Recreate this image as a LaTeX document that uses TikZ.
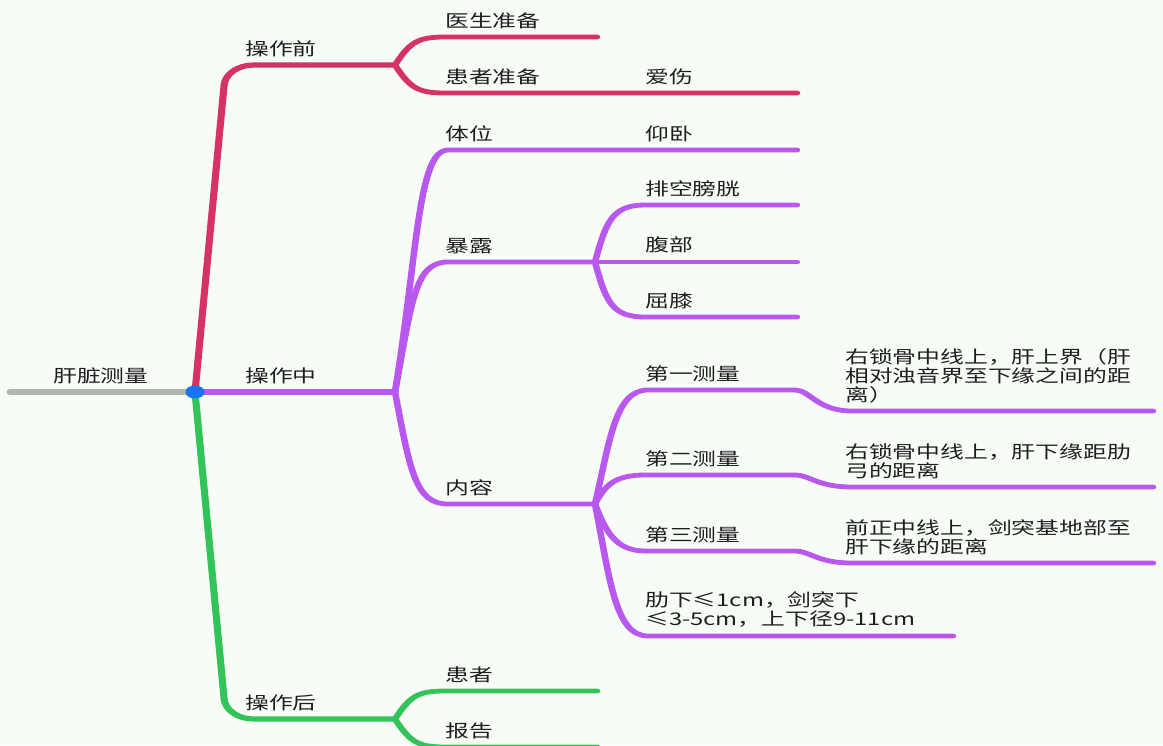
\documentclass[tikz,border=0pt]{standalone}
\usepackage{fontspec}
\setmainfont{Noto Sans CJK SC}
\usepackage{tikz}
\usetikzlibrary{positioning, shapes.geometric}
\definecolor{MapRed}{RGB}{214, 50, 100}
\definecolor{MapPurple}{RGB}{184, 88, 238}
\definecolor{MapGreen}{RGB}{50, 196, 88}
\definecolor{MapGray}{RGB}{180, 180, 180}
\definecolor{MapBlue}{RGB}{20, 118, 240}
\definecolor{MapInk}{RGB}{30, 30, 30}
\definecolor{MapPaper}{RGB}{247, 252, 247}
\tikzset{every node/.style={font=\fontsize{17.5}{19}\selectfont, text=MapInk}, every path/.style={line cap=round, line join=round}}
\tikzset{topic/.style={anchor=south west, inner sep=0pt, align=left}, limb/.style={line width=5.2pt}, twig/.style={line width=4.8pt}, hubdot/.style={ellipse, fill=MapBlue, inner sep=0pt, minimum width=14pt, minimum height=13pt}}

\begin{document}
\begin{tikzpicture}[x=1pt, y=-1pt]
    \useasboundingbox (0,0) rectangle (1163,745);
    \fill [MapPaper] (0,0) rectangle (1163,745);

    \begin{scope}[x=0.7353pt, transform canvas={xscale=1.36}]
    % fork points and line ends
    \coordinate (root) at (10,392);
    \coordinate (hub) at (195,392);
    \coordinate (pre) at (395,65);
    \coordinate (mid) at (395,392);
    \coordinate (post) at (395,719);
    \coordinate (doc) at (597,37);
    \coordinate (care) at (797,93);
    \coordinate (lie) at (797,150);
    \coordinate (expo) at (595,262);
    \coordinate (cont) at (595,504);
    \coordinate (bladder) at (797,205);
    \coordinate (belly) at (797,262);
    \coordinate (knee) at (797,317);
    \coordinate (m1) at (1153,411);
    \coordinate (m2) at (1153,487);
    \coordinate (m3) at (1153,563);
    \coordinate (norm) at (953,636);
    \coordinate (patient) at (597,691);
    \coordinate (report) at (597,747);

    % main branches
    \draw [limb, MapGray] (root) -- (hub);
    \draw [limb, MapRed, rounded corners=20pt] (hub) -- (226,65) -- (pre);
    \draw [limb, MapGreen, rounded corners=20pt] (hub) -- (226,719) -- (post);
    \draw [limb, MapPurple] (hub) -- (mid);

    % before
    \draw [twig, MapRed] (pre) .. controls (410,42) and (418,37) .. (445,37) -- (doc);
    \draw [twig, MapRed] (pre) .. controls (410,88) and (418,93) .. (445,93) -- (care);

    % during
    \draw [twig, MapPurple] (mid) .. controls (418,250) and (418,150) .. (448,150) -- (lie);
    \draw [twig, MapPurple] (mid) .. controls (412,300) and (415,262) .. (448,262) -- (expo);
    \draw [twig, MapPurple] (mid) .. controls (410,470) and (415,504) .. (448,504) -- (cont);
    \draw [twig, MapPurple] (expo) .. controls (606,222) and (612,205) .. (645,205) -- (bladder);
    \draw [twig, MapPurple] (expo) -- (belly);
    \draw [twig, MapPurple] (expo) .. controls (606,302) and (612,317) .. (645,317) -- (knee);
    \draw [twig, MapPurple] (cont) .. controls (610,440) and (615,390) .. (648,390) -- (795,390)
        .. controls (810,390) and (817,411) .. (852,411) -- (m1);
    \draw [twig, MapPurple] (cont) .. controls (605,485) and (615,475) .. (645,475) -- (795,475)
        .. controls (810,475) and (817,487) .. (852,487) -- (m2);
    \draw [twig, MapPurple] (cont) .. controls (605,530) and (615,551) .. (645,551) -- (795,551)
        .. controls (810,551) and (817,563) .. (852,563) -- (m3);
    \draw [twig, MapPurple] (cont) .. controls (610,580) and (615,636) .. (648,636) -- (norm);

    % after
    \draw [twig, MapGreen] (post) .. controls (410,696) and (418,691) .. (445,691) -- (patient);
    \draw [twig, MapGreen] (post) .. controls (410,742) and (418,747) .. (445,747) -- (report);

    \node [hubdot] (dot) at (hub) {};

    % labels
    \node [topic] (liver) at (53,384) {肝脏测量};
    \node [topic] (before) at (245,57) {操作前};
    \node [topic] (doctor) at (445,29) {医生准备};
    \node [topic] (patprep) at (445,85) {患者准备};
    \node [topic] (caring) at (645,85) {爱伤};
    \node [topic] (during) at (245,384) {操作中};
    \node [topic] (posture) at (445,142) {体位};
    \node [topic] (supine) at (645,142) {仰卧};
    \node [topic] (expose) at (445,254) {暴露};
    \node [topic] (empty) at (645,197) {排空膀胱};
    \node [topic] (abdomen) at (645,253) {腹部};
    \node [topic] (kneebend) at (645,309) {屈膝};
    \node [topic] (content) at (445,496) {内容};
    \node [topic] (first) at (645,382) {第一测量};
    \node [topic] (firstnote) at (845,403) {右锁骨中线上，肝上界（肝\\相对浊音界至下缘之间的距\\离）};
    \node [topic] (second) at (645,467) {第二测量};
    \node [topic] (secondnote) at (845,479) {右锁骨中线上，肝下缘距肋\\弓的距离};
    \node [topic] (third) at (645,543) {第三测量};
    \node [topic] (thirdnote) at (845,555) {前正中线上，剑突基地部至\\肝下缘的距离};
    \node [topic] (range) at (645,628) {肋下≤1cm，剑突下\\≤3-5cm，上下径9-11cm};
    \node [topic] (after) at (245,711) {操作后};
    \node [topic] (pat) at (445,683) {患者};
    \node [topic] (rep) at (445,739) {报告};
    \end{scope}
\end{tikzpicture}
\end{document}
